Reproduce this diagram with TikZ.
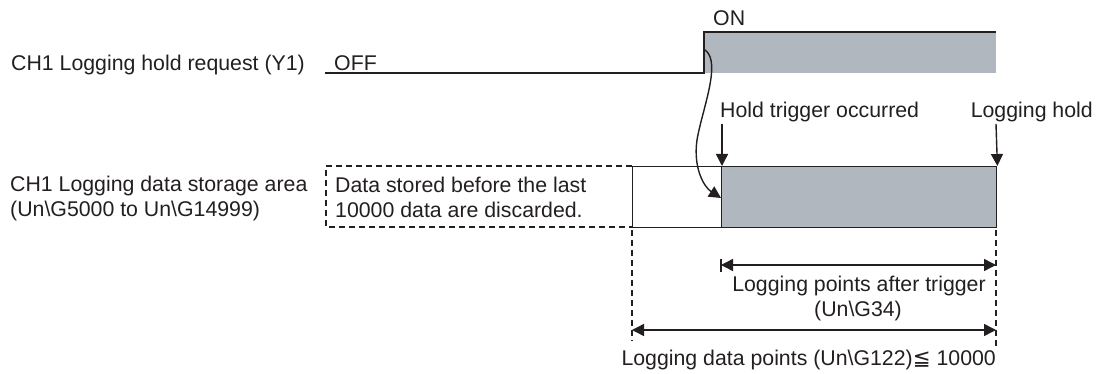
\documentclass[tikz,border=0pt]{standalone}
\usepackage{fontspec}
\setmainfont{Liberation Sans}
\newfontfamily\symfont{DejaVu Sans}
\usetikzlibrary{arrows.meta}
\definecolor{lineC}{RGB}{35,31,32}
\definecolor{fillC}{RGB}{177,183,190}
\tikzset{
  lbl/.style={inner sep=0pt, font=\fontsize{21.3}{25}\selectfont, text=lineC},
  ln/.style={line width=1.4pt, draw=lineC},
  dsh/.style={line width=1.1pt, draw=lineC, dash pattern=on 6pt off 4pt},
  tip/.style={-{Triangle[length=12pt,width=12pt]}},
  both/.style={{Triangle[length=12pt,width=12pt]}-{Triangle[length=12pt,width=12pt]}}
}
\begin{document}
\begin{tikzpicture}[x=1pt,y=-1pt]
\useasboundingbox (0,0) rectangle (1106,374);
% labels
\node[lbl, anchor=base west] (req) at (11,71) {CH1 Logging hold request (Y1)};
\node[lbl, anchor=base west] (off) at (334,71) {OFF};
\node[lbl, anchor=base west] (on) at (713,26) {ON};
\node[lbl, anchor=base west] (area1) at (10,192) {CH1 Logging data storage area};
\node[lbl, anchor=base west] (area2) at (10,217) {(Un\textbackslash G5000 to Un\textbackslash G14999)};
\node[lbl, anchor=base west] (disc1) at (335,193) {Data stored before the last};
\node[lbl, anchor=base west] (disc2) at (335,218) {10000 data are discarded.};
\node[lbl, anchor=base west] (trig) at (720,118) {Hold trigger occurred};
\node[lbl, anchor=base east] (hold) at (1093,118) {Logging hold};
\node[lbl, anchor=base] (after1) at (859,291) {Logging points after trigger};
\node[lbl, anchor=base] (after2) at (858,316) {(Un\textbackslash G34)};
\node[lbl, anchor=base east] (total) at (996,365) {Logging data points (Un\textbackslash G122){\symfont ≦} 10000};
% signal
\fill[fillC] (704,32) rectangle (996,73);
\coordinate (s0) at (325,73);
\coordinate (s1) at (704,73);
\coordinate (s2) at (704,32);
\coordinate (s3) at (996,32);
\draw[ln] (s0) -- (s1) -- (s2) -- (s3);
% storage area
\coordinate (d0) at (632,166);
\coordinate (d1) at (326,166);
\coordinate (d2) at (326,227);
\coordinate (d3) at (632,227);
\draw[dsh] (d0) -- (d1) -- (d2) -- (d3);
\node[ln, fill=white, minimum width=89pt, minimum height=61pt, inner sep=0pt, anchor=north west] (old) at (632,166) {};
\node[ln, fill=fillC, minimum width=275pt, minimum height=61pt, inner sep=0pt, anchor=north west] (new) at (721,166) {};
% curve arrow
\coordinate (c0) at (705,50);
\coordinate (c1) at (721,198);
\draw[ln, tip] (c0) .. controls (722,62) and (702,110) .. (697,140) .. controls (693,168) and (704,187) .. (c1);
% trigger arrows
\coordinate (t0) at (722,124);
\coordinate (t1) at (722,166);
\draw[ln, tip] (t0) -- (t1);
\coordinate (h0) at (996,124);
\draw[ln, tip] (h0) -- (new.north east);
% dashed guides
\coordinate (g0) at (632,230);
\coordinate (g1) at (632,341);
\coordinate (g2) at (996,230);
\coordinate (g3) at (996,347);
\draw[dsh] (g0) -- (g1);
\draw[dsh] (g2) -- (g3);
% dimension arrows
\coordinate (a0) at (721,265);
\coordinate (a1) at (996,265);
\coordinate (k0) at (721,259);
\coordinate (k1) at (721,272);
\draw[ln] (k0) -- (k1);
\draw[ln, both] (a0) -- (a1);
\coordinate (b0) at (632,330);
\coordinate (b1) at (996,330);
\draw[ln, both] (b0) -- (b1);
\end{tikzpicture}
\end{document}
